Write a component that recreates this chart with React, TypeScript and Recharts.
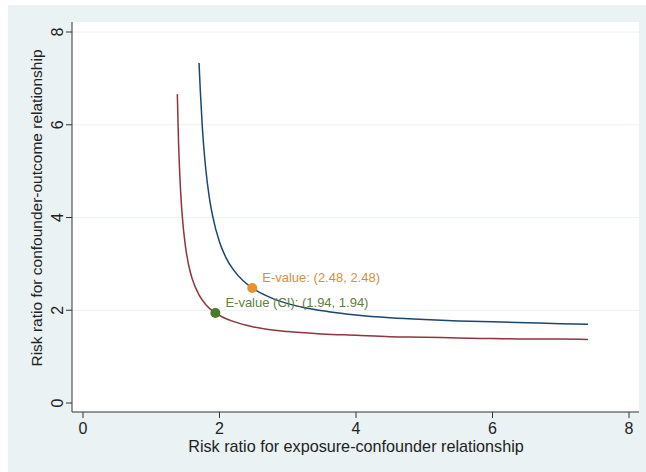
import React from 'react';
import { ComposedChart, Line, Scatter, XAxis, YAxis, CartesianGrid, ReferenceLine } from 'recharts';

// tick values
const xTicks = [0, 2, 4, 6, 8];
const yTicks = [0, 2, 4, 6, 8];
const gridValues = [2, 4, 6, 8];

// E-value curve for the point estimate (navy)
const pointX = [1.7, 1.72, 1.75, 1.8, 1.85, 1.9, 2.0, 2.1, 2.2, 2.35, 2.48, 2.8, 3.2, 3.6, 4.0, 4.5, 5.0, 5.5, 6.0, 6.5, 7.0, 7.4];
const pointY = [7.33, 6.7, 5.91, 5.03, 4.44, 4.03, 3.47, 3.12, 2.88, 2.63, 2.48, 2.24, 2.07, 1.97, 1.9, 1.84, 1.8, 1.77, 1.75, 1.73, 1.71, 1.7];

// E-value curve for the confidence limit (maroon)
const ciX = [1.382, 1.4, 1.42, 1.45, 1.5, 1.55, 1.6, 1.7, 1.8, 1.94, 2.05, 2.2, 2.5, 3.0, 3.5, 4.0, 4.5, 5.0, 5.5, 6.0, 6.5, 7.0, 7.4];
const ciY = [6.66, 5.62, 4.86, 4.11, 3.39, 2.96, 2.68, 2.33, 2.12, 1.94, 1.85, 1.76, 1.64, 1.54, 1.49, 1.46, 1.43, 1.42, 1.4, 1.39, 1.38, 1.38, 1.37];

// highlighted E-values
const evalue = [{ x: 2.48, y: 2.48 }];
const evalueCI = [{ x: 1.94, y: 1.94 }];
const evalueText = 'E-value: (2.48, 2.48)';
const evalueCIText = 'E-value (CI): (1.94, 1.94)';

const pointData = pointX.map((x, i) => ({ x, y: pointY[i] }));
const ciData = ciX.map((x, i) => ({ x, y: ciY[i] }));

const FONT = '"Liberation Sans", Arial, Helvetica, sans-serif';
const AXIS = '#333333';

const XTick = ({ x, payload }: any) => (
  <text x={x} y={434} textAnchor="middle" fontSize={16} fontFamily={FONT} fill="#222">
    {payload.value}
  </text>
);

const YTick = ({ y, payload }: any) => (
  <text
    x={63}
    y={y}
    transform={`rotate(-90 63 ${y})`}
    textAnchor="middle"
    fontSize={16}
    fontFamily={FONT}
    fill="#222"
  >
    {payload.value}
  </text>
);

const dot = (color: string, textColor: string, text: string) => (p: any) => (
  <g>
    <circle cx={p.cx} cy={p.cy} r={5} fill={color} />
    <text x={p.cx + 10} y={p.cy - 6} fontSize={13} fontFamily={FONT} fill={textColor}>
      {text}
    </text>
  </g>
);

export default function App() {
  return (
    <div style={{ position: 'absolute', left: 0, top: 0, width: 646, height: 472, background: '#fff' }}>
      <div style={{ position: 'absolute', left: 8, top: 5, right: 0, bottom: 0, background: '#EAF2F3' }} />
      <div style={{ position: 'absolute', left: 0, top: 0 }}>
        <ComposedChart width={646} height={472} margin={{ top: 22, right: 7, left: 0, bottom: 0 }}>
          <CartesianGrid fill="#ffffff" horizontal={false} vertical={false} />
          {gridValues.map((v) => (
            <ReferenceLine key={v} y={v} stroke="#EAF2F3" strokeWidth={1} />
          ))}
          <XAxis
            type="number"
            dataKey="x"
            domain={[0, 8]}
            ticks={xTicks}
            padding={{ left: 11, right: 10 }}
            height={60}
            tickSize={6}
            axisLine={{ stroke: AXIS }}
            tickLine={{ stroke: AXIS }}
            tick={<XTick />}
            label={{
              content: () => (
                <text x={356} y={452} textAnchor="middle" fontSize={16.2} fontFamily={FONT} fill="#222">
                  Risk ratio for exposure-confounder relationship
                </text>
              ),
            }}
          />
          <YAxis
            type="number"
            dataKey="y"
            domain={[0, 8]}
            ticks={yTicks}
            padding={{ top: 10, bottom: 9 }}
            width={72}
            tickSize={6}
            axisLine={{ stroke: AXIS }}
            tickLine={{ stroke: AXIS }}
            tick={<YTick />}
            label={{
              content: () => (
                <text
                  x={42}
                  y={208}
                  transform="rotate(-90 42 208)"
                  textAnchor="middle"
                  fontSize={15.5}
                  fontFamily={FONT}
                  fill="#222"
                >
                  Risk ratio for confounder-outcome relationship
                </text>
              ),
            }}
          />
          <Line
            data={ciData}
            dataKey="y"
            type="monotone"
            stroke="#90353B"
            strokeWidth={1.5}
            dot={false}
            isAnimationActive={false}
          />
          <Line
            data={pointData}
            dataKey="y"
            type="monotone"
            stroke="#1A476F"
            strokeWidth={1.5}
            dot={false}
            isAnimationActive={false}
          />
          <Scatter
            data={evalue}
            dataKey="y"
            shape={dot('#E8912D', '#D68F3A', evalueText)}
            isAnimationActive={false}
          />
          <Scatter
            data={evalueCI}
            dataKey="y"
            shape={dot('#4A7A2E', '#5E7F3A', evalueCIText)}
            isAnimationActive={false}
          />
        </ComposedChart>
      </div>
    </div>
  );
}
